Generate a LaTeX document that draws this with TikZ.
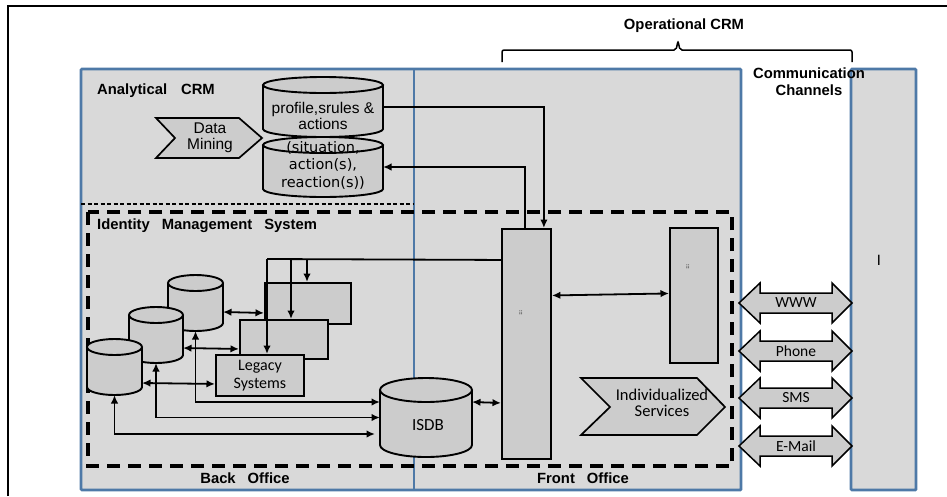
\documentclass[tikz,border=0pt]{standalone}
\usepackage{fontspec}
\setmainfont{Liberation Sans}
\newfontfamily\carl{Carlito}
\newfontfamily\dejav{DejaVu Sans}
\usetikzlibrary{arrows.meta,calc}
\definecolor{panelfill}{HTML}{D9D9D9}
\definecolor{shapefill}{HTML}{CCCCCC}
\definecolor{panelblue}{RGB}{78,121,167}
\tikzset{
  panel/.style={fill=panelfill,draw=panelblue,line width=2.8pt,rounded corners=1pt},
  drumline/.style={draw=black,line width=1.9pt},
  box/.style={draw,fill=shapefill,line width=1.9pt,inner sep=0,anchor=north west},
  conn/.style={line width=1.8pt},
  arr/.style={conn,-{Latex[length=8.5pt,width=7.5pt]}},
  arrtwo/.style={conn,{Latex[length=8.5pt,width=7.5pt]}-{Latex[length=8.5pt,width=7.5pt]}},
  chev/.style={draw,fill=shapefill,line width=1.7pt,line join=miter},
  chan/.style={draw,fill=shapefill,line width=1.5pt,line join=miter},
  lbl/.style={font=\bfseries\fontsize{14.8}{17}\selectfont,inner sep=0},
  txt/.style={font=\fontsize{15.5}{16.5}\selectfont,align=center,inner sep=0},
  ctxt/.style={font=\carl\fontsize{16}{17}\selectfont,align=center,inner sep=0},
  tiny/.style={font=\bfseries\fontsize{5}{5}\selectfont,inner sep=0,rotate=-90}
}
% name, x1, ytop, x2, ybot, ry
\newcommand\drum[6]{%
  \pgfmathsetmacro\dcx{(#2+#4)/2}%
  \pgfmathsetmacro\drx{(#4-#2)/2}%
  \fill[shapefill] (#2,#3+#6) rectangle (#4,#5-#6);
  \fill[shapefill] (\dcx,#5-#6) ellipse[x radius=\drx,y radius=#6];
  \draw[drumline] (#2,#3+#6) -- (#2,#5-#6) arc[start angle=180,end angle=0,x radius=\drx,y radius=#6] -- (#4,#3+#6);
  \draw[drumline,fill=shapefill] (\dcx,#3+#6) ellipse[x radius=\drx,y radius=#6];
  \node[inner sep=0,outer sep=0,minimum width={#4-#2},minimum height={#5-#3}] (#1) at (\dcx,{(#3+#5)/2}) {};
}
\newcommand\chanarrow[3]{%
  \draw[chan] (739,#2) -- (760,#2-20) -- (760,#2-10) -- (832,#2-10) -- (832,#2-20) -- (852,#2)
     -- (832,#2+20) -- (832,#2+10) -- (760,#2+10) -- (760,#2+20) -- cycle;
  \node[ctxt,font=\carl\fontsize{15.5}{15}\selectfont] (#1) at (796,#2) {#3};
}
\begin{document}
\begin{tikzpicture}[x=1pt,y=-1pt]
\useasboundingbox (0,0) rectangle (947,496);
% outer frame
\draw[line width=2.2pt] (8,496) -- (8,6) -- (947,6);
% panels
\draw[panel] (81,69) rectangle (741,490);
\draw[panelblue,line width=2.8pt] (414,69) -- (414,490);
\draw[panel] (851,69) rectangle (916,490);
% analytical / IMS separators
\draw[line width=1.5pt,dash pattern=on 4pt off 2.5pt] (81,204) -- (414,204);
\draw[line width=3.2pt,dash pattern=on 13pt off 8pt] (88,212) rectangle (732,466);
% brace
\draw[line width=1.5pt,rounded corners=2pt] (502,62) -- (502,50) -- (676,50) -- (678,41) -- (680,50) -- (852,50) -- (852,62);
% labels
\node[lbl,anchor=west] (acrm) at (97,91) {Analytical\hspace{14pt}CRM};
\node[lbl,anchor=west] (ims) at (97,226) {Identity\hspace{12pt}Management\hspace{12pt}System};
\node[lbl] (bo) at (245,478) {Back\hspace{12pt}Office};
\node[lbl] (fo) at (583,478) {Front\hspace{12pt}Office};
\node[lbl] (ocrm) at (684,26) {Operational CRM};
\node[lbl,align=center] (cc) at (809,82) {Communication\\Channels};
% analytical CRM
\draw[chev] (156,118) -- (239,118) -- (262,138) -- (239,158) -- (156,158) -- (175,138) -- cycle;
\node[txt] (dm) at (210,138) {Data\\Mining};
\drum{prof}{263}{77}{383}{137}{8}
\node[txt,font=\fontsize{15.5}{16.5}\selectfont] (proft) at (323,116) {profile,srules \&\\actions};
\drum{sit}{263}{137}{383}{197}{8}
\node[txt,font=\dejav\fontsize{14.5}{17.5}\selectfont] (sitt) at (323,165) {(situation,\\action(s),\\reaction(s))};
% legacy systems
\node[box,minimum width=86,minimum height=41] (b3) at (264,282) {};
\node[box,minimum width=88,minimum height=39] (b2) at (239,319) {};
\node[box,minimum width=88,minimum height=41,align=center,font=\carl\fontsize{16}{17.5}\selectfont] (leg) at (215,354) {Legacy\\Systems};
\drum{c3}{168}{275}{223}{331}{8}
\drum{c2}{129}{307}{183}{363}{8}
\drum{c1}{87}{339}{142}{395}{8}
\drum{isdb}{380}{378}{472}{457}{12}
\node[ctxt,font=\carl\fontsize{17}{17}\selectfont] (isdbt) at (428,425) {ISDB};
% front office
\node[box,minimum width=49,minimum height=230] (tb) at (501,228) {};
\node[box,minimum width=48,minimum height=135] (rb) at (669,227) {};
\node[tiny] (tbt) at (521,313) {:::};
\node[tiny] (rbt) at (688,267) {:::};
\draw[chev] (581,378) -- (697,378) -- (725,407) -- (697,435) -- (581,435) -- (610,407) -- cycle;
\node[ctxt,font=\carl\fontsize{16.5}{16}\selectfont] (ind) at (662,403) {Individualized\\Services};
% channels
\chanarrow{www}{303}{WWW}
\chanarrow{phone}{351}{Phone}
\chanarrow{sms}{398}{SMS}
\chanarrow{email}{446}{E-Mail}
\node[ctxt] (ipanel) at (879,260) {I};
% connectors
\draw[arr] (prof.east) -| ($(tb.north east)+(-8,0)$);
\draw[arr] ($(tb.north west)+(24,0)$) |- (sit.east);
\coordinate (h1) at (267,259);
\coordinate (h2) at (291,259);
\coordinate (h3) at (307,259);
\draw[conn] ($(tb.west)+(0,-84)$) -- (h1);
\draw[arr] (h1) -- (h1 |- leg.north);
\draw[arr] (h2) -- (h2 |- b2.north);
\draw[arr] (h3) -- (h3 |- b3.north);
\draw[arrtwo] (tb.east |- rb.west) -- ($(rb.west)+(0,-2)$);
\draw[arrtwo] ($(isdb.east)+(0,-15.5)$) -- ($(tb.west)+(0,59)$);
\draw[arrtwo] ($(c3.east)+(0,9)$) -- ($(b3.west)+(0,9.5)$);
\draw[arrtwo] ($(c2.east)+(0,13)$) -- ($(b2.west)+(0,9.5)$);
\draw[arrtwo] ($(c1.east)+(0,16)$) -- ($(leg.west)+(0,8.5)$);
\draw[arrtwo] (c3.south) |- ($(isdb.west)+(0,-15.5)$);
\draw[arrtwo] (c2.south) |- (isdb.west);
\draw[arrtwo] (c1.south) |- ($(isdb.west)+(-5,16.5)$);
\end{tikzpicture}
\end{document}
